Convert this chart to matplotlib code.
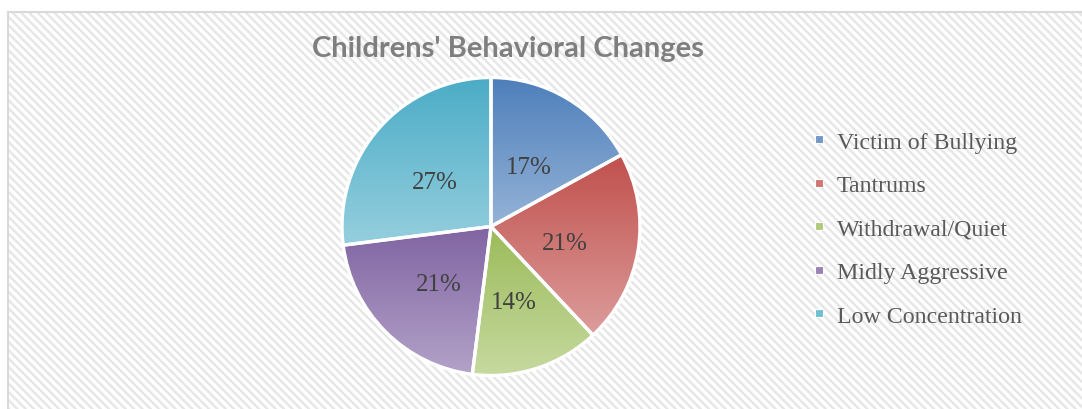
import matplotlib
matplotlib.use("Agg")
import matplotlib.pyplot as plt
import numpy as np
from matplotlib.colors import to_rgb
from matplotlib.lines import Line2D
from matplotlib.patches import Rectangle
from matplotlib.transforms import offset_copy

TITLE = "Childrens' Behavioral Changes"
LABELS = ["Victim of Bullying", "Tantrums", "Withdrawal/Quiet",
          "Midly Aggressive", "Low Concentration"]
VALUES = [17, 21, 14, 21, 27]
TOP_COLORS = ["#4E7FBB", "#C0504D", "#9BBB59", "#8064A2", "#4BACC6"]
BOTTOM_COLORS = ["#95B3D7", "#DC9D9B", "#C6D9A0", "#B3A2C8", "#95CFDE"]

W, H = 1082, 410
plt.rcParams["hatch.linewidth"] = 1.7

fig = plt.figure(figsize=(W / 100, H / 100), dpi=100)
fig.patch.set_facecolor("white")

# chart area: white with light diagonal stripes, thin grey border
stripes = Rectangle((8 / W, -0.05), 1.0, 1.05 - 13 / H, transform=fig.transFigure,
                    facecolor="white", edgecolor="#E6E6E6", hatch="\\\\\\\\",
                    linewidth=0, zorder=-2)
border = Rectangle((8 / W, -0.05), 1.0, 1.05 - 13 / H, transform=fig.transFigure,
                   facecolor="none", edgecolor="#D9D9D9", linewidth=1.5,
                   zorder=-1)
fig.patches.extend([stripes, border])

fig.text(508 / W, 1 - 49 / H, TITLE, ha="center", va="center",
         fontsize=21, fontweight="bold", color="#7F7F7F", family="Lato")

R = 149
cx, cy = 491, 227.5
ax = fig.add_axes([(cx - R) / W, (H - cy - R) / H, 2 * R / W, 2 * R / H])
ax.set_zorder(2)
wedges, _, autotexts = ax.pie(
    VALUES, startangle=90, counterclock=False, autopct="%1.0f%%",
    pctdistance=0.5,
    wedgeprops=dict(facecolor="none", edgecolor="white", linewidth=2.4),
    textprops=dict(fontsize=18, color="#404040", family="Liberation Serif"))

for w, c0, c1 in zip(wedges, TOP_COLORS, BOTTOM_COLORS):
    w.set_zorder(3)
    ext = w.get_path().get_extents()
    t = np.linspace(0, 1, 256)[:, None]
    grad = (1 - t) * np.array(to_rgb(c0)) + t * np.array(to_rgb(c1))
    img = ax.imshow(grad[:, None, :], extent=(ext.x0, ext.x1, ext.y0, ext.y1),
                    origin="upper", aspect="auto", zorder=2,
                    interpolation="bilinear")
    img.set_clip_path(w)
for t in autotexts:
    t.set_zorder(5)
    t.set_transform(offset_copy(ax.transData, fig=fig, y=-5, units="dots"))

ax.set_xlim(-1, 1)
ax.set_ylim(-1, 1)
ax.set_aspect("equal")
ax.axis("off")

mid = [tuple((np.array(to_rgb(a)) + np.array(to_rgb(b))) / 2)
       for a, b in zip(TOP_COLORS, BOTTOM_COLORS)]
handles = [Line2D([], [], marker="s", linestyle="", markersize=6,
                  markerfacecolor=c, markeredgecolor="white",
                  markeredgewidth=0.8) for c in mid]
leg = fig.legend(handles, LABELS, loc="upper left",
                 bbox_to_anchor=(800 / W, 1 - 120 / H), frameon=False,
                 prop=dict(family="Liberation Serif", size=17.2),
                 labelcolor="#595959", handlelength=0.6, handletextpad=0.45,
                 labelspacing=0.91, borderpad=0)
leg.set_zorder(3)

fig.savefig("out.png", dpi=100)
